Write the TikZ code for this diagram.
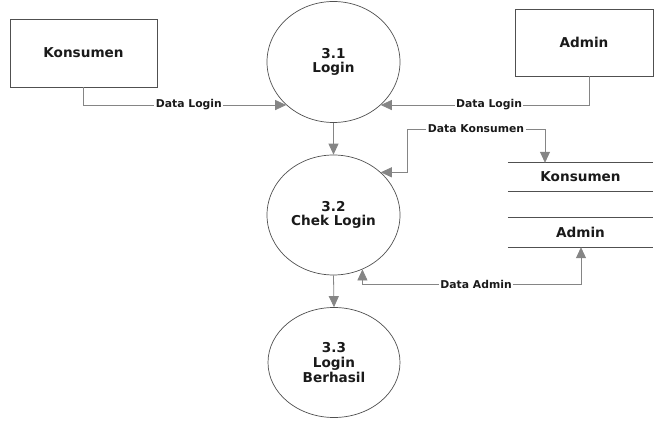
\documentclass[tikz,border=0pt]{standalone}
\usepackage{fontspec}
\setmainfont{DejaVu Sans}
\usetikzlibrary{shapes.geometric,arrows.meta}
\definecolor{linec}{HTML}{858585}
\definecolor{shapec}{HTML}{505050}
\definecolor{txt}{HTML}{1A1A1A}
\begin{document}
\begin{tikzpicture}[x=1pt,y=-1pt,
  bigfont/.style={font=\bfseries\fontsize{13.6}{14.8}\selectfont, text=txt},
  ent/.style={draw=shapec, line width=0.7pt, rectangle, inner sep=0pt, bigfont},
  proc/.style={ellipse, draw=shapec, line width=0.7pt, inner sep=0pt, align=center, bigfont},
  storebox/.style={rectangle, inner sep=0pt, minimum width=145pt, bigfont},
  lbl/.style={fill=white, inner sep=1.5pt, font=\bfseries\fontsize{10.8}{12}\selectfont, text=txt},
  flow/.style={draw=linec, line width=0.8pt, -{Triangle[length=11pt,width=10pt]}},
  biflow/.style={draw=linec, line width=0.8pt, {Triangle[length=11pt,width=10pt]}-{Triangle[length=11pt,width=10pt]}}
]
\useasboundingbox (0,0) rectangle (654,427);

% external entities
\node[ent, minimum width=147pt, minimum height=68pt] (kons) at (83.5,53) {Konsumen};
\node[ent, minimum width=138pt, minimum height=67pt] (adm) at (584,42.5) {Admin};

% processes
\node[proc, minimum width=133pt, minimum height=121pt] (c31) at (333.5,62) {3.1\\Login};
\node[proc, minimum width=133pt, minimum height=120pt] (c32) at (333.5,215) {3.2\\Chek Login};
\node[proc, minimum width=132pt, minimum height=110pt] (c33) at (334,362.5) {3.3\\Login\\Berhasil};

% data stores
\node[storebox, minimum height=28pt] (sk) at (580.5,177) {Konsumen};
\node[storebox, minimum height=29pt] (sa) at (580.5,232.5) {Admin};
\draw[shapec, line width=0.7pt] (sk.north west) -- (sk.north east) (sk.south west) -- (sk.south east);
\draw[shapec, line width=0.7pt] (sa.north west) -- (sa.north east) (sa.south west) -- (sa.south east);

% flows
\draw[flow] (kons.south) |- node[lbl, pos=0.76] {Data Login} (c31.south west);
\draw[flow] ([xshift=5pt]adm.south) |- node[lbl, pos=0.74] {Data Login} (c31.south east);
\draw[flow] (c31.south) -- (c32.north);
\draw[flow] (c32.south) -- (c33.north);

\coordinate (dk) at (407,129);
\draw[biflow] (c32.north east) -| (dk) -| node[lbl, pos=0.25] {Data Konsumen} ([xshift=-35.5pt]sk.north);

\coordinate (da) at (581,284);
\draw[biflow] (c32.-62) |- node[lbl, pos=0.76] {Data Admin} (da) -- (da |- sa.south);
\end{tikzpicture}
\end{document}
